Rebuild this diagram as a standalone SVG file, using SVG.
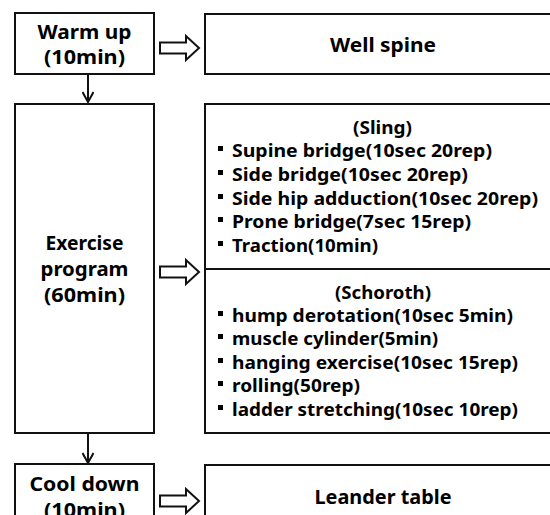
<svg xmlns="http://www.w3.org/2000/svg" width="550" height="515" viewBox="0 0 550 515">
<style>
.box{fill:#fff;stroke:#111;stroke-width:2}
.t{font-family:"Noto Sans","Open Sans","Liberation Sans",sans-serif;font-weight:700;fill:#000}
.big{font-size:20px;text-anchor:middle}
.li{font-size:17px}
.hd{font-size:17px;text-anchor:middle}
.conn{stroke:#111;stroke-width:2;fill:none}
.hollow{fill:#fff;stroke:#111;stroke-width:2;stroke-linejoin:miter}
</style>
<defs>
<marker id="vh" viewBox="0 0 12 12" refX="11" refY="6" markerWidth="12" markerHeight="12" markerUnits="userSpaceOnUse" orient="auto">
<path d="M1,0.5 L11,6 L1,11.5" fill="none" stroke="#111" stroke-width="2"/>
</marker>
<path id="harrow" d="M0,-5.5 H26 V-12 L39,0 L26,12 V5.5 H0 Z"/>
</defs>
<g id="connectors">
<line class="conn" x1="88" y1="74" x2="88" y2="102" marker-end="url(#vh)"/>
<line class="conn" x1="88" y1="433" x2="88" y2="463" marker-end="url(#vh)"/>
<use href="#harrow" class="hollow" x="160" y="48"/>
<use href="#harrow" class="hollow" x="160" y="272"/>
<use href="#harrow" class="hollow" x="160" y="501"/>
</g>
<g id="warmup">
<rect class="box" x="15" y="13" width="139" height="61"/>
<text class="t big" x="84.5" y="38.5" textLength="94" lengthAdjust="spacingAndGlyphs">Warm up</text>
<text class="t big" x="84.5" y="63.5" textLength="81" lengthAdjust="spacingAndGlyphs">(10min)</text>
</g>
<g id="wellspine">
<rect class="box" x="205" y="14" width="360" height="60"/>
<text class="t big" x="383" y="51.5" textLength="106" lengthAdjust="spacingAndGlyphs">Well spine</text>
</g>
<g id="exercise">
<rect class="box" x="15" y="104" width="139" height="329"/>
<text class="t big" x="84.5" y="249.5" textLength="78" lengthAdjust="spacingAndGlyphs">Exercise</text>
<text class="t big" x="84.5" y="275.5" textLength="88" lengthAdjust="spacingAndGlyphs">program</text>
<text class="t big" x="84.5" y="301.5" textLength="81" lengthAdjust="spacingAndGlyphs">(60min)</text>
</g>
<g id="program">
<rect class="box" x="205" y="104" width="360" height="329"/>
<line class="conn" x1="205" y1="269" x2="552" y2="269"/>
<text class="t hd" x="382.5" y="134" textLength="59" lengthAdjust="spacingAndGlyphs">(Sling)</text>
<g fill="#000">
<rect x="218" y="146" width="5" height="5"/>
<rect x="218" y="170" width="5" height="5"/>
<rect x="218" y="194" width="5" height="5"/>
<rect x="218" y="217" width="5" height="5"/>
<rect x="218" y="241" width="5" height="5"/>
<rect x="218" y="311" width="5" height="5"/>
<rect x="218" y="334" width="5" height="5"/>
<rect x="218" y="358" width="5" height="5"/>
<rect x="218" y="381" width="5" height="5"/>
<rect x="218" y="405" width="5" height="5"/>
</g>
<text class="t li" x="232" y="157" textLength="260" lengthAdjust="spacingAndGlyphs">Supine bridge(10sec 20rep)</text>
<text class="t li" x="232" y="181" textLength="236" lengthAdjust="spacingAndGlyphs">Side bridge(10sec 20rep)</text>
<text class="t li" x="232" y="204.5" textLength="306" lengthAdjust="spacingAndGlyphs">Side hip adduction(10sec 20rep)</text>
<text class="t li" x="232" y="228" textLength="239" lengthAdjust="spacingAndGlyphs">Prone bridge(7sec 15rep)</text>
<text class="t li" x="232" y="252" textLength="146" lengthAdjust="spacingAndGlyphs">Traction(10min)</text>
<text class="t hd" x="383" y="298.5" textLength="96" lengthAdjust="spacingAndGlyphs">(Schoroth)</text>
<text class="t li" x="232" y="322" textLength="281" lengthAdjust="spacingAndGlyphs">hump derotation(10sec 5min)</text>
<text class="t li" x="232" y="345" textLength="206" lengthAdjust="spacingAndGlyphs">muscle cylinder(5min)</text>
<text class="t li" x="232" y="368.5" textLength="286" lengthAdjust="spacingAndGlyphs">hanging exercise(10sec 15rep)</text>
<text class="t li" x="232" y="392" textLength="128" lengthAdjust="spacingAndGlyphs">rolling(50rep)</text>
<text class="t li" x="232" y="416" textLength="286" lengthAdjust="spacingAndGlyphs">ladder stretching(10sec 10rep)</text>
</g>
<g id="cooldown">
<rect class="box" x="15" y="464" width="139" height="70"/>
<text class="t big" x="84.5" y="491" textLength="110" lengthAdjust="spacingAndGlyphs">Cool down</text>
<text class="t big" x="84.5" y="517" textLength="81" lengthAdjust="spacingAndGlyphs">(10min)</text>
</g>
<g id="leander">
<rect class="box" x="205" y="465" width="360" height="70"/>
<text class="t big" x="383" y="504" textLength="137" lengthAdjust="spacingAndGlyphs">Leander table</text>
</g>
</svg>
